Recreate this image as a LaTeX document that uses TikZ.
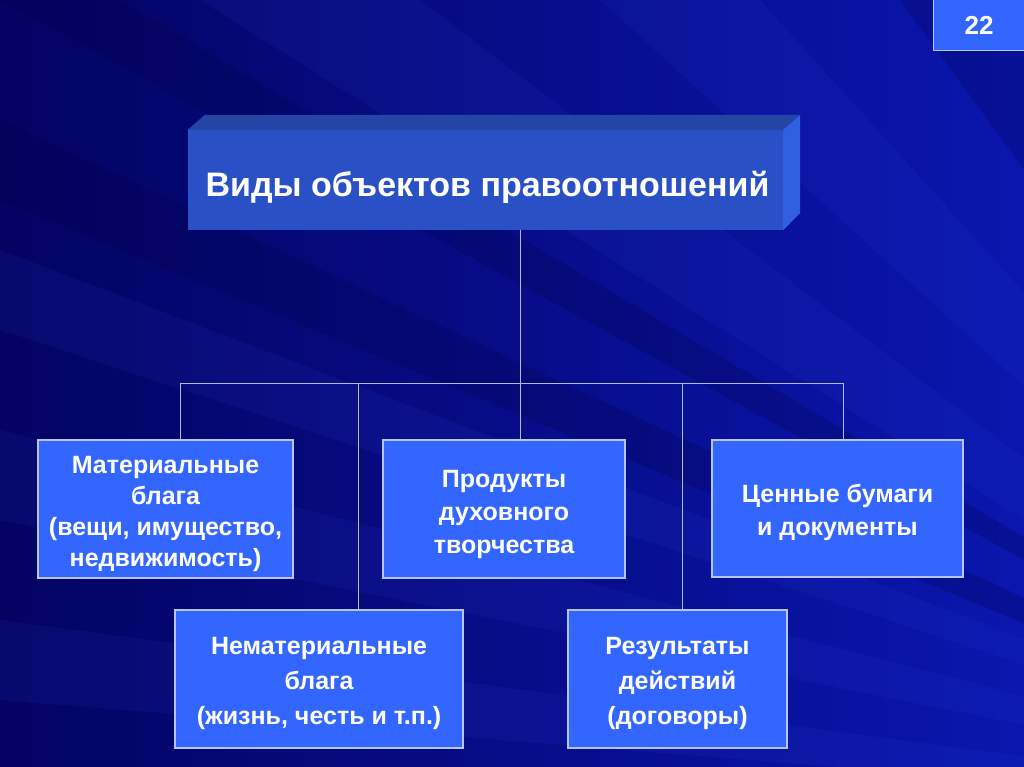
\documentclass[tikz,border=0pt]{standalone}
\usepackage{fontspec}
\setmainfont{Liberation Sans}
\begin{document}
\begin{tikzpicture}[x=1pt,y=-1pt,
  conn/.style={draw=linegray, line width=1pt},
  leaf/.style={draw=boxedge, line width=1.2pt, fill=boxblue, inner sep=0pt},
  leaftext/.style={text=white, font=\bfseries\fontsize{25}{#1}\selectfont, align=center, inner sep=0pt},
  leaftext/.default=31,
  ray/.style={fill=raylight, fill opacity=0.08, draw=none},
  darkray/.style={fill=raydark, fill opacity=0.22, draw=none}]
\definecolor{bgleft}{HTML}{030362}
\definecolor{bgright}{HTML}{0A16AE}
\definecolor{raylight}{HTML}{3C5CFF}
\definecolor{raydark}{HTML}{000040}
\definecolor{boxblue}{HTML}{3366FF}
\definecolor{boxedge}{HTML}{B8C4F0}
\definecolor{linegray}{HTML}{B4B8D8}
\definecolor{frontblue}{HTML}{2A50C6}
\definecolor{topblue}{HTML}{2444A6}
\definecolor{sideblue}{HTML}{3060E0}
% background
\useasboundingbox (0,0) rectangle (1024,767);
\shade[left color=bgleft, right color=bgright] (0,0) rectangle (1024,767);
\begin{scope}
\clip (0,0) rectangle (1024,767);
\fill[ray] (1500,820) -- (200,0) -- (420,0) -- cycle;
\fill[ray] (1500,820) -- (0,250) -- (0,330) -- cycle;
\fill[ray] (1500,820) -- (0,430) -- (0,520) -- cycle;
\fill[ray] (1500,820) -- (600,0) -- (760,0) -- cycle;
\fill[ray] (1500,820) -- (0,620) -- (0,700) -- cycle;
\fill[darkray] (1500,820) -- (900,0) -- (1024,0) -- (1024,40) -- cycle;
\fill[darkray] (1500,820) -- (0,120) -- (0,200) -- cycle;
\fill[darkray] (1500,820) -- (0,0) -- (120,0) -- cycle;
\fill[ray] (1500,820) -- (1024,380) -- (1024,420) -- cycle;
\end{scope}
% page number
\node[draw=boxedge, line width=1pt, fill=boxblue, text=white, font=\bfseries\fontsize{26}{30}\selectfont,
  minimum width=92pt, minimum height=51pt, inner sep=0pt] (num) at (979,25.5) {22};
% top 3D box
\node[fill=frontblue, minimum width=595pt, minimum height=100pt, inner sep=0pt] (top) at (485.5,180) {};
\fill[topblue] (top.north west) -- ++(17,-15) -- ++(595,0) -- (top.north east) -- cycle;
\fill[sideblue] (top.north east) -- ++(17,-15) -- ++(0,98) -- (top.south east) -- cycle;
\node[text=white, font=\bfseries\fontsize{34}{40}\selectfont, inner sep=0pt] (title) at (487.5,187) {Виды объектов правоотношений};
% leaves
\node[leaf, minimum width=255pt, minimum height=138pt] (b1) at (165.5,509) {};
\node[leaf, minimum width=242pt, minimum height=138pt] (b2) at (504,509) {};
\node[leaf, minimum width=251pt, minimum height=137pt] (b3) at (837.5,508.5) {};
\node[leaf, minimum width=288pt, minimum height=138pt] (b4) at (319,679) {};
\node[leaf, minimum width=219pt, minimum height=138pt] (b5) at (677.5,679) {};
\node[leaftext=31] (t1) at ([yshift=-5pt]b1.center) {Материальные\\блага\\(вещи, имущество,\\недвижимость)};
\node[leaftext=33] (t2) at ([yshift=-5pt]b2.center) {Продукты\\духовного\\творчества};
\node[leaftext=33] (t3) at ([yshift=-4pt]b3.center) {Ценные бумаги\\и документы};
\node[leaftext=35] (t4) at ([yshift=-4pt]b4.center) {Нематериальные\\блага\\(жизнь, честь и т.п.)};
\node[leaftext=35] (t5) at ([yshift=-4pt]b5.center) {Результаты\\действий\\(договоры)};
% connectors
\coordinate (hub) at (520,383);
\coordinate (j1) at (180,383);
\coordinate (j4) at (358,383);
\coordinate (j5) at (682,383);
\coordinate (j3) at (843,383);
\draw[conn] (top.south -| hub) -- (hub);
\draw[conn] (j1) -- (j3);
\draw[conn] (j1) -- (j1 |- b1.north);
\draw[conn] (j4) -- (j4 |- b4.north);
\draw[conn] (hub) -- (hub |- b2.north);
\draw[conn] (j5) -- (j5 |- b5.north);
\draw[conn] (j3) -- (j3 |- b3.north);
\end{tikzpicture}
\end{document}
